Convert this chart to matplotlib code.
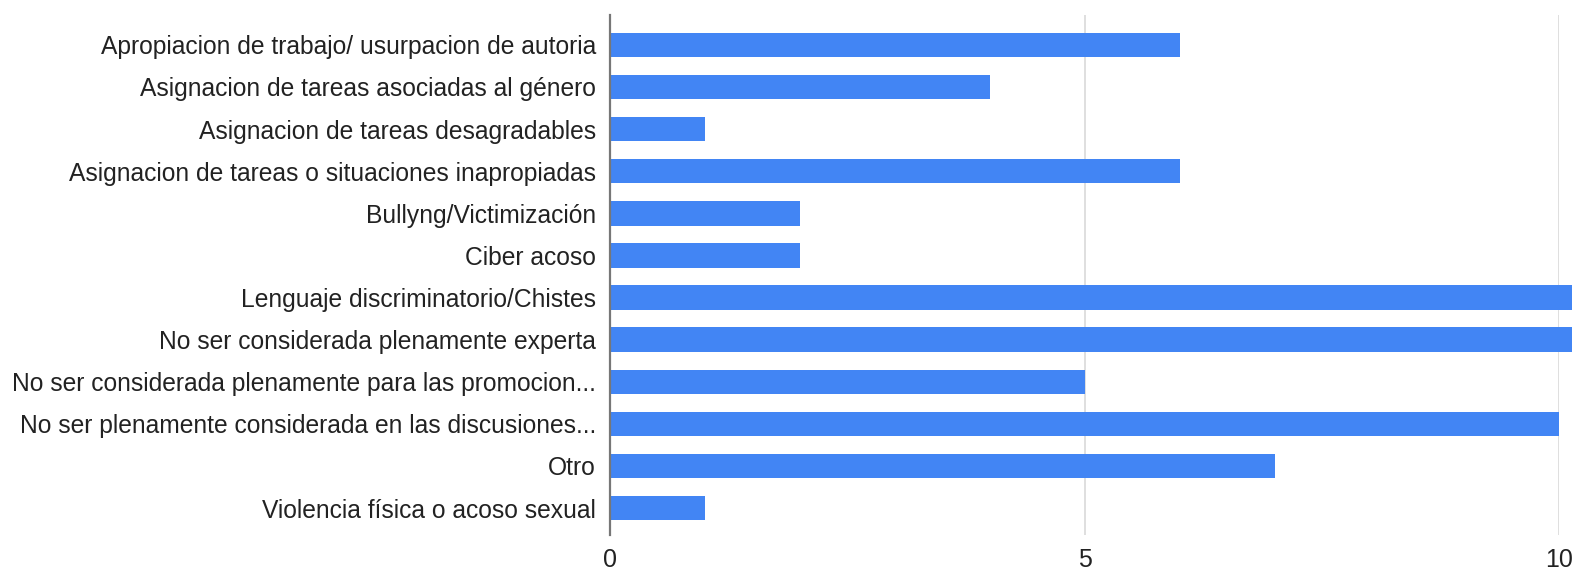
import matplotlib
matplotlib.use("Agg")
import matplotlib.pyplot as plt

# -------------------------------------------------
# Data
# -------------------------------------------------
categories = [
    "Apropiacion de trabajo/ usurpacion de autoria",
    "Asignacion de tareas asociadas al género",
    "Asignacion de tareas desagradables",
    "Asignacion de tareas o situaciones inapropiadas",
    "Bullyng/Victimización",
    "Ciber acoso",
    "Lenguaje discriminatorio/Chistes",
    "No ser considerada plenamente experta",
    "No ser considerada plenamente para las promocion...",
    "No ser plenamente considerada en las discusiones...",
    "Otro",
    "Violencia física o acoso sexual",
]
values = [6, 4, 1, 6, 2, 2, 11, 11, 5, 10, 7, 1]
xticks = [0, 5, 10]

plt.rcParams["font.family"] = ["Liberation Sans", "DejaVu Sans"]

fig = plt.figure(figsize=(15.72, 5.70), dpi=100)
ax = fig.add_axes([0.388, 0.0614, 0.604, 0.9123])

ypos = list(range(len(categories)))
ax.barh(ypos, values, height=0.58, color="#4285F4", clip_on=False, zorder=3)

ax.set_xlim(0, 10)
ax.set_ylim(len(categories) - 0.36, -0.71)
ax.set_yticks(ypos)
ax.set_yticklabels(categories, fontsize=17.7, color="#222222")
ax.set_xticks(xticks)
ax.set_xticklabels([str(t) for t in xticks], fontsize=18, color="#222222")

ax.tick_params(axis="both", length=0)
ax.tick_params(axis="y", pad=10)
ax.tick_params(axis="x", pad=9)

ax.grid(axis="x", color="#d9d9d9", linewidth=1.2, zorder=0)
for s in ["top", "right", "bottom"]:
    ax.spines[s].set_visible(False)
ax.spines["left"].set_color("#777777")
ax.spines["left"].set_linewidth(1.6)
ax.spines["left"].set_zorder(4)

fig.savefig("out.png", dpi=100)
